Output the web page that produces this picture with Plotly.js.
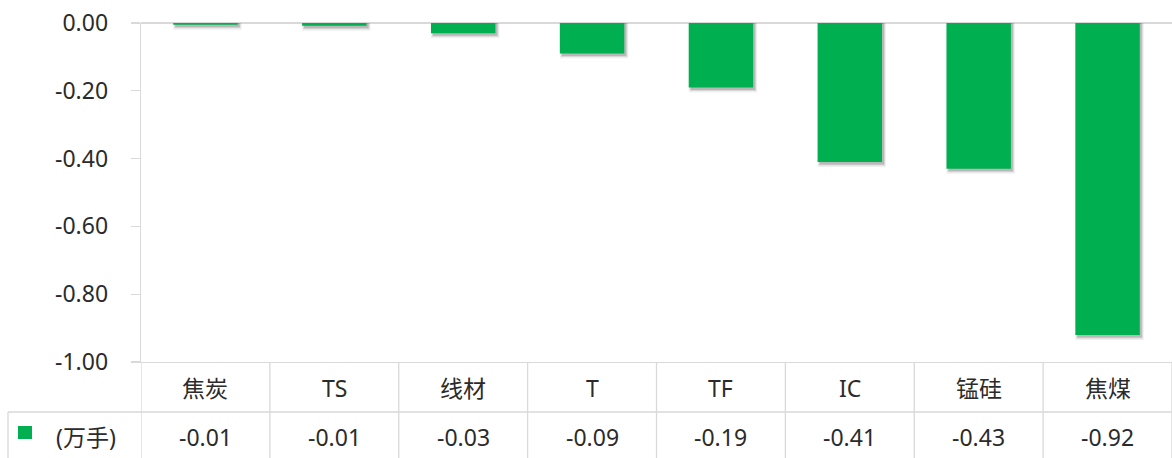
<!DOCTYPE html>
<html>
<head>
<meta charset="utf-8">
<script src="https://cdn.plot.ly/plotly-3.0.1.min.js"></script>
<style>html,body{margin:0;padding:0;background:#fff;}#chart{width:1172px;height:458px;}</style>
</head>
<body>
<div id="chart"></div>
<script>
// ---- data ----
var categories = ['焦炭', 'TS', '线材', 'T', 'TF', 'IC', '锰硅', '焦煤'];
var values = [-0.0055, -0.008, -0.03, -0.09, -0.19, -0.41, -0.43, -0.92];
var seriesName = '(万手)';
var yTicks = [0, -0.2, -0.4, -0.6, -0.8, -1.0];
var yTickLabels = ['0.00', '-0.20', '-0.40', '-0.60', '-0.80', '-1.00'];

// ---- styling ----
var GREEN = '#00B050';
var LINE = '#d9d9d9';
var TXT = '#2b2b2b';
var FONT = 'Noto Sans, Noto Sans CJK SC, sans-serif';
var FS = 23;

var W = 1172, H = 458, ML = 141, MR = 0, MT = 23, MB = 96;
var PW = W - ML - MR, PH = H - MT - MB;
function px2paperX(px) { return (px - ML) / PW; }
function px2paperY(py) { return (H - MB - py) / PH; }

var xIdx = categories.map(function (c, i) { return i; });
var catPx = PW / categories.length;

function shadowTrace(dxPx, dyPx, growPx, alpha) {
  var w = 0.5 + growPx / catPx;
  return {
    type: 'bar', x: xIdx, y: values.map(function (v) { return v - dyPx / PH; }),
    width: w, offset: -w / 2 + dxPx / catPx,
    marker: { color: 'rgba(0,0,0,' + alpha + ')', line: { width: 0 } },
    hoverinfo: 'skip', showlegend: false
  };
}

var bars = {
  type: 'bar', x: xIdx, y: values, name: seriesName,
  width: 0.5, offset: -0.25,
  marker: { color: GREEN, line: { width: 0 } },
  showlegend: false
};

var rowLine = px2paperY(412);
var bottom = px2paperY(460);
var leftTable = px2paperX(8);

var shapes = [];
shapes.push({ type: 'line', xref: 'paper', yref: 'paper', x0: leftTable, x1: 1, y0: rowLine, y1: rowLine, line: { color: LINE, width: 1.3 } });
shapes.push({ type: 'line', xref: 'paper', yref: 'paper', x0: leftTable, x1: leftTable, y0: rowLine, y1: bottom, line: { color: LINE, width: 1.3 } });
for (var i = 0; i <= categories.length; i++) {
  shapes.push({ type: 'line', xref: 'x', yref: 'paper', x0: i - 0.5, x1: i - 0.5, y0: 0, y1: bottom, line: { color: LINE, width: 1.3 } });
}
shapes.push({ type: 'rect', xref: 'paper', yref: 'paper', x0: px2paperX(18), x1: px2paperX(32), y0: px2paperY(426), y1: px2paperY(439), fillcolor: GREEN, line: { width: 0 } });

var annotations = [];
var row1 = px2paperY(388), row2 = px2paperY(437);
categories.forEach(function (c, i) {
  annotations.push({ xref: 'x', yref: 'paper', x: i, y: row1, text: c, showarrow: false, xanchor: 'center', yanchor: 'middle', font: { family: FONT, size: FS, color: TXT } });
  annotations.push({ xref: 'x', yref: 'paper', x: i, y: row2, text: values[i].toFixed(2), showarrow: false, xanchor: 'center', yanchor: 'middle', font: { family: FONT, size: FS, color: TXT } });
});
annotations.push({ xref: 'paper', yref: 'paper', x: px2paperX(86), y: row2, text: seriesName, showarrow: false, xanchor: 'center', yanchor: 'middle', font: { family: FONT, size: FS, color: TXT } });

var layout = {
  width: W, height: H,
  margin: { l: ML, r: MR, t: MT, b: MB, pad: 0 },
  paper_bgcolor: '#fff', plot_bgcolor: '#fff',
  barmode: 'overlay',
  showlegend: false,
  font: { family: FONT, size: FS, color: TXT },
  xaxis: {
    range: [-0.5, categories.length - 0.5],
    showticklabels: false, ticks: '', showgrid: false, zeroline: false,
    showline: true, linecolor: LINE, linewidth: 1.3, mirror: false, fixedrange: true
  },
  yaxis: {
    range: [-1, 0], tickvals: yTicks, ticktext: yTickLabels,
    ticks: 'outside', ticklen: 9, tickcolor: LINE, tickwidth: 1.3,
    ticklabelstandoff: 18,
    showgrid: false, zeroline: true, zerolinecolor: LINE, zerolinewidth: 1.3,
    showline: true, linecolor: LINE, linewidth: 1.3,
    tickfont: { family: FONT, size: FS, color: TXT }, fixedrange: true
  },
  shapes: shapes,
  annotations: annotations
};

Plotly.newPlot('chart', [
  shadowTrace(2, 5, 4, 0.06),
  shadowTrace(2, 3.5, 2, 0.10),
  shadowTrace(2, 2.5, 0, 0.14),
  bars
], layout, { displayModeBar: false, staticPlot: true });
</script>
</body>
</html>
